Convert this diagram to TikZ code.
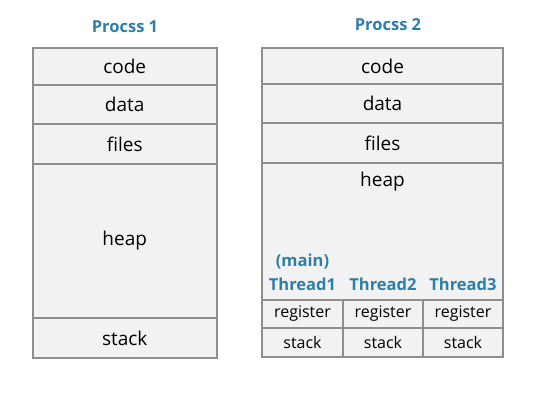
\documentclass[tikz,border=0pt]{standalone}
\usepackage{fontspec}
\setmainfont{Open Sans}
\definecolor{cellfill}{HTML}{F2F2F2}
\definecolor{cellline}{HTML}{8E8E8E}
\definecolor{titleblue}{HTML}{2E7FA8}
\begin{document}
\begin{tikzpicture}[x=1pt,y=-1pt,
  cell/.style={draw=cellline,fill=cellfill,line width=1.6pt,inner sep=0pt,
    font=\fontsize{19}{22}\selectfont},
  small/.style={cell,font=\fontsize{16}{19}\selectfont},
  ttl/.style={text=titleblue,font=\fontsize{16.5}{19}\selectfont\bfseries},
  thr/.style={text=titleblue,font=\fontsize{16.5}{19}\selectfont\bfseries,align=center,inner sep=0pt},
  lbl/.style={font=\fontsize{19}{22}\selectfont,inner sep=0pt}]
\useasboundingbox (0,0) rectangle (536,406);
% Process 1
\node[ttl] (t1) at (125,27) {Procss 1};
\node[cell,minimum width=184pt,minimum height=37pt] (p1code) at (124.7,66.5) {code};
\node[cell,minimum width=184pt,minimum height=39pt] (p1data) at (124.7,104.5) {data};
\node[cell,minimum width=184pt,minimum height=40pt] (p1files) at (124.7,144) {files};
\node[cell,minimum width=184pt,minimum height=154pt] (p1heap) at (124.7,241) {heap};
\node[cell,minimum width=184pt,minimum height=40pt] (p1stack) at (124.7,338) {stack};
% Process 2
\node[ttl] (t2) at (388,25) {Procss 2};
\node[cell,minimum width=241pt,minimum height=36pt] (p2code) at (382.5,66) {code};
\node[cell,minimum width=241pt,minimum height=39pt] (p2data) at (382.5,103.5) {data};
\node[cell,minimum width=241pt,minimum height=40pt] (p2files) at (382.5,143) {files};
\node[cell,minimum width=241pt,minimum height=137pt] (p2heap) at (382.5,231.5) {};
\node[lbl] (p2heaplbl) at (382.5,182) {heap};
\node[thr] (mainlbl) at (302.5,262) {(main)};
\node[thr,anchor=base] (th1) at (302.5,291) {Thread1};
\node[thr,anchor=base] (th2) at (383,291) {Thread2};
\node[thr,anchor=base] (th3) at (463,291) {Thread3};
\node[small,minimum width=81pt,minimum height=28pt] (r1) at (302.5,314) {register};
\node[small,minimum width=80pt,minimum height=28pt] (r2) at (383,314) {register};
\node[small,minimum width=80pt,minimum height=28pt] (r3) at (463,314) {register};
\node[small,minimum width=81pt,minimum height=29pt] (s1) at (302.5,342.5) {stack};
\node[small,minimum width=80pt,minimum height=29pt] (s2) at (383,342.5) {stack};
\node[small,minimum width=80pt,minimum height=29pt] (s3) at (463,342.5) {stack};
\end{tikzpicture}
\end{document}
